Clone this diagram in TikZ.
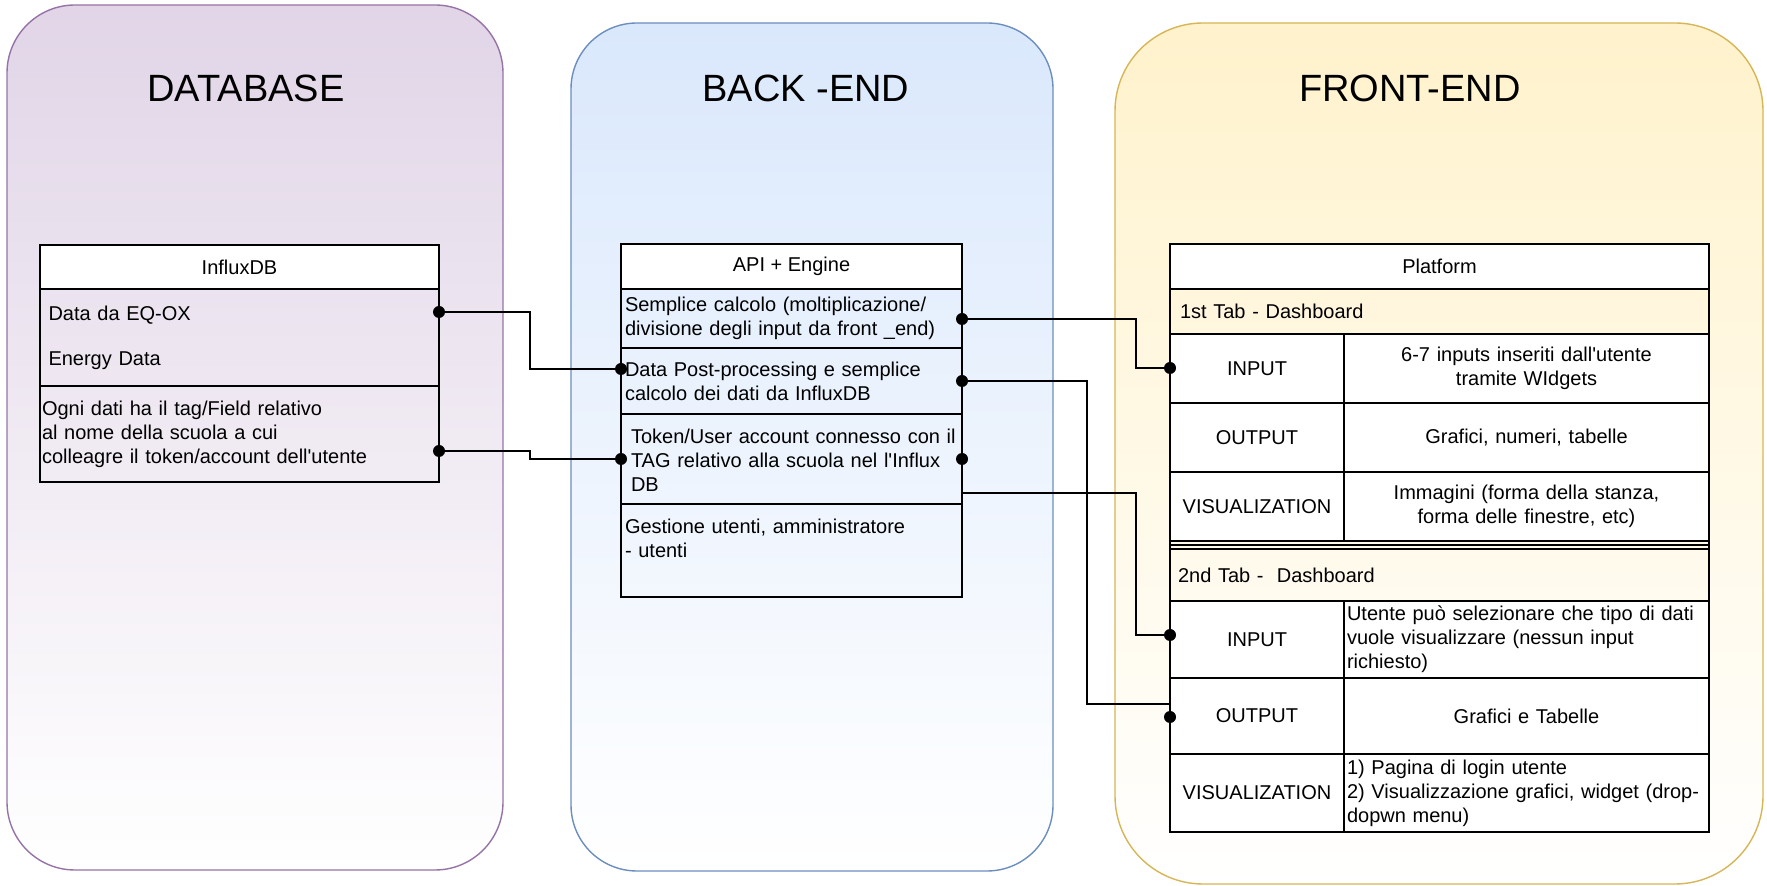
\documentclass[tikz,border=0pt]{standalone}
\usepackage{fontspec}
\setmainfont{Liberation Sans}

\definecolor{dbfill}{HTML}{E1D5E7}
\definecolor{dbline}{HTML}{9673A6}
\definecolor{befill}{HTML}{DAE8FC}
\definecolor{beline}{HTML}{6C8EBF}
\definecolor{fefill}{HTML}{FFF2CC}
\definecolor{feline}{HTML}{D6B656}

\tikzset{
  panel/.style={draw, line width=0.7pt, anchor=north west, outer sep=0pt, inner sep=0pt},
  paneltitle/.style={font=\fontsize{19}{23}\selectfont},
  cell/.style={draw, line width=0.7pt, anchor=north west, outer sep=0pt, inner xsep=2pt,
               inner ysep=0pt, font=\fontsize{10}{12}\selectfont},
  keycell/.style={cell, fill=white, minimum width=87pt, align=center},
  valcell/.style={cell, fill=white, text width=178.5pt, align=center},
  dot/.style={circle, fill=black, inner sep=0pt, minimum size=6pt},
  link/.style={line width=0.75pt}
}

\begin{document}
\begin{tikzpicture}[x=0.5pt, y=-0.5pt]
  \useasboundingbox (0,0) rectangle (1767,886);

  % the three columns
  \node[panel, draw=dbline, top color=dbfill, bottom color=white, rounded corners=34pt,
        minimum width=248pt, minimum height=432.5pt] (dbpanel) at (7,5) {};
  \node[panel, draw=beline, top color=befill, bottom color=white, rounded corners=33pt,
        minimum width=241pt, minimum height=424pt] (bepanel) at (571,23) {};
  \node[panel, draw=feline, top color=fefill, bottom color=white, rounded corners=44pt,
        minimum width=324pt, minimum height=430.5pt] (fepanel) at (1115,23) {};

  \node[paneltitle] (dbtitle) at (246,88) {DATABASE};
  \node[paneltitle] (betitle) at (806,88) {BACK -END};
  \node[paneltitle] (fetitle) at (1410,88) {FRONT-END};

  % database
  \node[cell, fill=white, minimum width=199.5pt, minimum height=22pt, align=center] (influxhead) at (40,245) {InfluxDB};
  \node[cell, minimum height=48.5pt, inner xsep=4.25pt, text width=191pt, align=left] (influxdata) at (40,289)
       {Data da EQ-OX\\[10.5pt]Energy Data};
  \node[cell, minimum height=48pt, inner xsep=1pt, text width=197.5pt, align=left] (influxtag) at (40,386)
       {Ogni dati ha il tag/Field relativo\\al nome della scuola a cui\\colleagre il token/account dell\textquotesingle utente};

  % back-end
  \node[cell, fill=white, minimum width=170.5pt, minimum height=22.5pt, align=center] (apihead) at (621,244) {API + Engine};
  \node[cell, minimum height=29.5pt, text width=166.5pt, align=left] (apicalc) at (621,289)
       {Semplice calcolo (moltiplicazione/\\divisione degli input da front \_end)};
  \node[cell, minimum height=33pt, text width=166.5pt, align=left] (apipost) at (621,348)
       {Data Post-processing e semplice\\calcolo dei dati da InfluxDB};
  \node[cell, minimum height=45pt, text width=166.5pt, align=left] (apitoken) at (621,414)
       {\mbox{}\\[-3.5pt]\hspace*{3pt}Token/User account connesso con il\\\hspace*{3pt}TAG relativo alla scuola nel l\textquotesingle Influx\\\hspace*{3pt}DB};
  \node[cell, minimum height=46.5pt, text width=166.5pt, align=left] (apiuser) at (621,504)
       {Gestione utenti, amministratore\\- utenti\\\mbox{}};

  % front-end
  \node[cell, minimum width=269.5pt, minimum height=294pt] (platform) at (1170,244) {};
  \node[cell, minimum width=269.5pt, minimum height=128pt] (tabone) at (1170,289) {};
  \node[cell, minimum width=269.5pt, minimum height=141.5pt] (tabtwo) at (1170,549) {};
  \node[cell, fill=white, minimum width=269.5pt, minimum height=22.5pt, align=center] (plathead) at (1170,244) {Platform};

  \node[cell, minimum height=22.5pt, inner xsep=5pt, text width=259.5pt, align=left] (tabonehead) at (1170,289) {1st Tab - Dashboard};
  \node[keycell, minimum height=34.5pt] (inkeyone) at (1170,334) {INPUT};
  \node[valcell, minimum height=34.5pt] (invalone) at (1344,334) {6-7 inputs inseriti dall\textquotesingle utente\\tramite WIdgets};
  \node[keycell, minimum height=34.5pt] (outkeyone) at (1170,403) {OUTPUT};
  \node[valcell, minimum height=34.5pt] (outvalone) at (1344,403) {Grafici, numeri, tabelle};
  \node[keycell, minimum height=34.5pt] (viskeyone) at (1170,472) {VISUALIZATION};
  \node[valcell, minimum height=34.5pt] (visvalone) at (1344,472) {Immagini (forma della stanza,\\forma delle finestre, etc)};

  \node[cell, minimum height=26pt, inner xsep=4pt, text width=261.5pt, align=left] (tabtwohead) at (1170,549) {2nd Tab - \ Dashboard};
  \node[keycell, minimum height=38.5pt] (inkeytwo) at (1170,601) {INPUT};
  \node[valcell, minimum height=38.5pt, inner xsep=1.5pt, text width=179.5pt, align=left] (invaltwo) at (1344,601)
       {Utente può selezionare che tipo di dati\\vuole visualizzare (nessun input\\richiesto)};
  \node[keycell, minimum height=38pt] (outkeytwo) at (1170,678) {OUTPUT};
  \node[valcell, minimum height=38pt] (outvaltwo) at (1344,678) {Grafici e Tabelle};
  \node[keycell, minimum height=39pt] (viskeytwo) at (1170,754) {VISUALIZATION};
  \node[valcell, minimum height=39pt, inner xsep=1.5pt, text width=179.5pt, align=left] (visvaltwo) at (1344,754)
       {1) Pagina di login utente\\2) Visualizzazione grafici, widget (drop-\\dopwn menu)};

  % connector ends
  \foreach \n/\x/\y in {dinfla/439/312, dinflb/439/451, dpostw/621/369, dtokw/621/459,
                        dcalce/962/319, dposte/962/381, dtoke/962/459,
                        dinone/1170/368, dintwo/1170/635, douttwo/1170/717}
    \node[dot] (\n) at (\x,\y) {};
  \coordinate (ctoks) at (962,493);
  \coordinate (couttwo) at (1170,704);

  \draw[link] (dinfla) -- ++(91,0) |- (dpostw);
  \draw[link] (dinflb) -- ++(91,0) |- (dtokw);
  \draw[link] (dcalce) -- ++(174,0) |- (dinone);
  \draw[link] (dposte) -- ++(125,0) |- (couttwo) -- (douttwo);
  \draw[link] (ctoks) -- ++(174,0) |- (dintwo);
\end{tikzpicture}
\end{document}
